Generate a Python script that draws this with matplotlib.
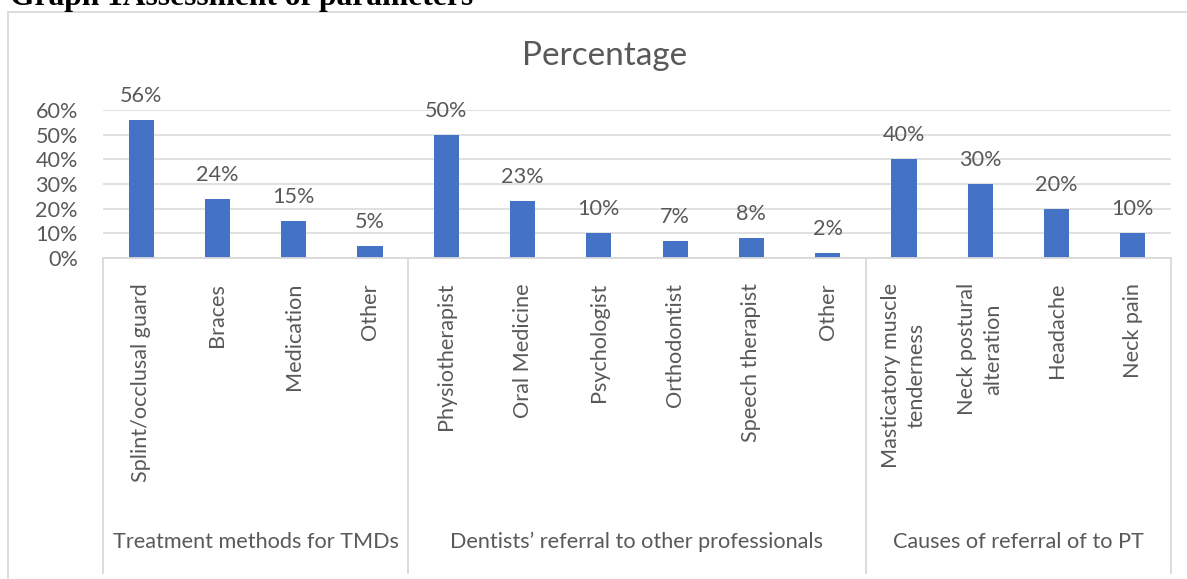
import matplotlib
matplotlib.use("Agg")
import matplotlib.pyplot as plt
from matplotlib.transforms import blended_transform_factory
from matplotlib.patches import Rectangle
from matplotlib.lines import Line2D

# ---- data ----
groups = ["Treatment methods for TMDs",
          "Dentists\u2019 referral to other professionals",
          "Causes of referral of to PT"]
group1_labels = ["Splint/occlusal guard", "Braces", "Medication", "Other"]
group1_values = [56, 24, 15, 5]
group2_labels = ["Physiotherapist", "Oral Medicine", "Psychologist",
                 "Orthodontist", "Speech therapist", "Other"]
group2_values = [50, 23, 10, 7, 8, 2]
group3_labels = ["Masticatory muscle\ntenderness", "Neck postural\nalteration",
                 "Headache", "Neck pain"]
group3_values = [40, 30, 20, 10]
yticks = [0, 10, 20, 30, 40, 50, 60]

labels = group1_labels + group2_labels + group3_labels
values = group1_values + group2_values + group3_values
group_sizes = [len(group1_labels), len(group2_labels), len(group3_labels)]

W, H = 1187, 579
fig = plt.figure(figsize=(W / 100, H / 100), dpi=100)
fig.patch.set_facecolor("white")

def fx(x):
    return x / W

def fy(y):
    return 1 - y / H

FONT = "Lato"
TXT = "#595959"
GRID = "#D9D9D9"
BAR = "#4472C4"
FS = 15.6

# outer chart border
fig.patches.append(Rectangle((fx(8), -0.05), 1.2, fy(12) + 0.05,
                             transform=fig.transFigure, fill=False,
                             edgecolor=GRID, lw=1.3))

# header (cut off at top, as in the source page)
fig.text(fx(10), fy(5), "Graph 1Assessment of parameters",
         family="Liberation Serif", weight="bold", fontsize=22.7,
         ha="left", va="baseline", color="black")

left, right, top, bottom = 103, 1171, 110, 258
ax = fig.add_axes([fx(left), fy(bottom), fx(right) - fx(left), (bottom - top) / H])
x = list(range(len(values)))
ax.bar(x, [v / 100 for v in values], width=0.33, color=BAR, zorder=3)
ax.set_xlim(-0.5, len(values) - 0.5)
ax.set_ylim(0, 0.6)
ax.set_yticks([t / 100 for t in yticks])
ax.set_yticklabels([f"{t}%" for t in yticks], family=FONT, fontsize=FS, color=TXT)
ax.tick_params(axis="y", length=0, pad=18)
ax.set_xticks([])
for s in ax.spines.values():
    s.set_visible(False)
ax.grid(axis="y", color=GRID, lw=1.1, zorder=0)
ax.axhline(0, color=GRID, lw=1.3, zorder=4, clip_on=False)

for xi, v in zip(x, values):
    ax.annotate(f"{v}%", (xi, v / 100), xytext=(0, 10), textcoords="offset points",
                ha="center", va="bottom", family=FONT, fontsize=FS, color=TXT,
                annotation_clip=False)

tr = blended_transform_factory(ax.transData, fig.transFigure)
for xi, lab in zip(x, labels):
    ax.text(xi, fy(283), lab, rotation=90, ha="center", va="top",
            multialignment="center", family=FONT, fontsize=FS, color=TXT,
            transform=tr, linespacing=1.35)

# group separators and labels
edges = [-0.5]
for n in group_sizes:
    edges.append(edges[-1] + n)
for e in edges:
    fig.lines.append(Line2D([e, e], [fy(258), fy(573)], transform=tr,
                            color=GRID, lw=1.3))
for i, g in enumerate(groups):
    cx = (edges[i] + edges[i + 1]) / 2
    ax.text(cx, fy(542), g, ha="center", va="center", family=FONT,
            fontsize=FS, color=TXT, transform=tr)

fig.text(fx(605), fy(56), "Percentage", ha="center", va="center",
         family=FONT, fontsize=24, color=TXT)

fig.savefig("out.png", dpi=100)
